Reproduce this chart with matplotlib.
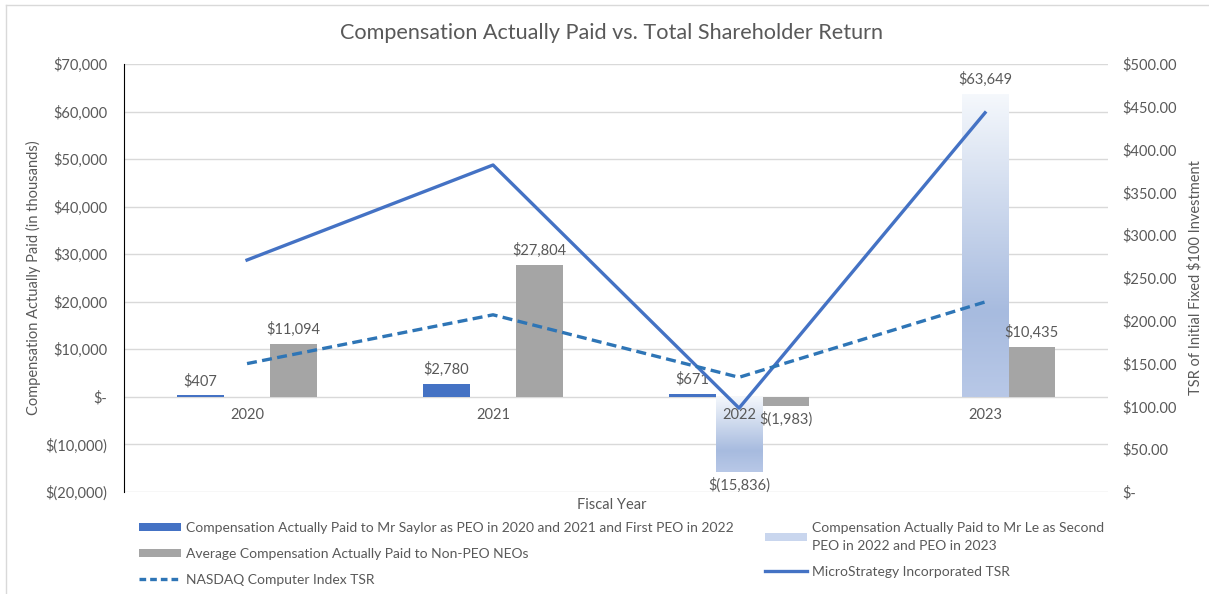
import numpy as np
import matplotlib
matplotlib.use("Agg")
import matplotlib.pyplot as plt
from matplotlib.patches import Patch
from matplotlib.lines import Line2D
from matplotlib.colors import LinearSegmentedColormap
from matplotlib.ticker import FuncFormatter

plt.rcParams['font.family'] = ['Lato', 'DejaVu Sans']

years = ["2020", "2021", "2022", "2023"]
saylor_cap = [407, 2780, 671, np.nan]
le_cap = [np.nan, np.nan, -15836, 63649]
neo_cap = [11094, 27804, -1983, 10435]
mstr_tsr = [271, 382, 98, 443]
nasdaq_tsr = [150, 207, 134, 222]

saylor_lbl = "Compensation Actually Paid to Mr Saylor as PEO in 2020 and 2021 and First PEO in 2022"
le_lbl = "Compensation Actually Paid to Mr Le as Second\nPEO in 2022 and PEO in 2023"
neo_lbl = "Average Compensation Actually Paid to Non-PEO NEOs"
nasdaq_lbl = "NASDAQ Computer Index TSR"
mstr_lbl = "MicroStrategy Incorporated TSR"

GREY_TXT = "#595959"
BLUE = "#4472c4"
DASH_BLUE = "#2e75b6"
BAR_GREY = "#a5a5a5"


def money(v, pos=None):
    if v == 0:
        return "$-"
    if v < 0:
        return "$({:,.0f})".format(-v)
    return "${:,.0f}".format(v)


def tsr_fmt(v, pos=None):
    if v == 0:
        return "$-"
    return "${:,.2f}".format(v)


fig = plt.figure(figsize=(12.09, 5.94), dpi=100)
ax = fig.add_axes([0.1026, 0.1717, 0.8139, 0.7206])

x = np.arange(len(years))
w = 0.19
b1 = ax.bar(x - w, saylor_cap, w, color=BLUE, zorder=2)
b2 = ax.bar(x, le_cap, w, color="none", zorder=2)
b3 = ax.bar(x + w, neo_cap, w, color=BAR_GREY, zorder=2)

# gradient fill for the Le bars
cmap = LinearSegmentedColormap.from_list(
    "le", [(0, "#f5f8fc"), (0.72, "#a7bbdf"), (1.0, "#b8c8e7")])
grad = np.linspace(0, 1, 256).reshape(-1, 1)
for bar in b2:
    h = bar.get_height()
    if np.isnan(h) or h == 0:
        continue
    x0 = bar.get_x()
    top, bot = (h, 0) if h > 0 else (0, h)
    im = ax.imshow(grad, cmap=cmap, aspect="auto", origin="upper",
                   extent=[x0, x0 + bar.get_width(), bot, top], zorder=2)
    im.set_clip_path(bar)

# data labels
for bars in (b1, b2, b3):
    for bar in bars:
        h = bar.get_height()
        if np.isnan(h):
            continue
        cx = bar.get_x() + bar.get_width() / 2
        if h >= 0:
            ax.annotate(money(h), (cx, h), xytext=(0, 5), textcoords="offset points",
                        ha="center", va="bottom", fontsize=10.5, color=GREY_TXT)
        else:
            ax.annotate(money(h), (cx, h), xytext=(0, -4), textcoords="offset points",
                        ha="center", va="top", fontsize=10.5, color=GREY_TXT)

ax.set_xlim(-0.5, 3.5)
ax.set_ylim(-20000, 70000)
ax.set_yticks(np.arange(-20000, 70001, 10000))
ax.yaxis.set_major_formatter(FuncFormatter(money))
ax.grid(axis="y", color="#d9d9d9", lw=1)
ax.yaxis.set_zorder(0.5)
ax.xaxis.set_zorder(6)
ax.set_xticks(x)
ax.set_xticklabels(years)
ax.spines["bottom"].set_position(("data", 0))
ax.spines["bottom"].set_visible(False)
ax.spines["top"].set_visible(False)
ax.spines["right"].set_visible(False)
ax.spines["left"].set_color("#000000")
ax.tick_params(axis="both", length=0, colors=GREY_TXT, labelsize=10.5)
ax.tick_params(axis="x", pad=8)
ax.tick_params(axis="y", pad=12)
ax.set_ylabel("Compensation Actually Paid (in thousands)", color=GREY_TXT, fontsize=10.5, labelpad=3)

ax2 = ax.twinx()
ax2.plot(x, mstr_tsr, color=BLUE, lw=2.4, zorder=5)
ax2.plot(x, nasdaq_tsr, color=DASH_BLUE, lw=2.4, ls=(0, (3, 1.6)), zorder=5)
ax2.set_ylim(0, 500)
ax2.set_yticks(np.arange(0, 501, 50))
ax2.yaxis.set_major_formatter(FuncFormatter(tsr_fmt))
for s in ax2.spines.values():
    s.set_visible(False)
ax2.tick_params(axis="y", length=0, colors=GREY_TXT, labelsize=10.5, pad=10)
ax2.set_ylabel("TSR of Initial Fixed $100 Investment", color=GREY_TXT, fontsize=10.5, labelpad=8)

fig.text(0.506, 0.945, "Compensation Actually Paid vs. Total Shareholder Return",
         ha="center", va="center", fontsize=15.6, color=GREY_TXT)
fig.text(0.506, 0.149, "Fiscal Year", ha="center", va="center", fontsize=10.5, color=GREY_TXT)

# legends
h_say = Patch(facecolor=BLUE)
h_neo = Patch(facecolor=BAR_GREY)
h_nas = Line2D([], [], color=DASH_BLUE, lw=2.4, ls=(0, (2, 1.2)))
h_le = Patch(facecolor="#c9d6ee")
h_mstr = Line2D([], [], color=BLUE, lw=2.4)

leg_kw = dict(frameon=False, fontsize=10, labelcolor=GREY_TXT, handlelength=3.0,
              handleheight=0.55, handletextpad=0.35, labelspacing=1.0, borderpad=0,
              borderaxespad=0)
leg1 = fig.legend([h_say, h_neo, h_nas], [saylor_lbl, neo_lbl, nasdaq_lbl],
                  loc="upper left", bbox_to_anchor=(0.115, 0.121), **leg_kw)
leg2 = fig.legend([h_le, h_mstr], [le_lbl, mstr_lbl],
                  loc="upper left", bbox_to_anchor=(0.633, 0.121), **leg_kw)
leg2.get_texts()[0].set_linespacing(1.6)

# chart border (top and left visible)
fig.add_artist(Line2D([0.005, 1.0], [0.992, 0.992], transform=fig.transFigure, color="#d9d9d9", lw=1))
fig.add_artist(Line2D([0.005, 0.005], [0.0, 0.992], transform=fig.transFigure, color="#d9d9d9", lw=1))

fig.savefig("out.png", dpi=100)
